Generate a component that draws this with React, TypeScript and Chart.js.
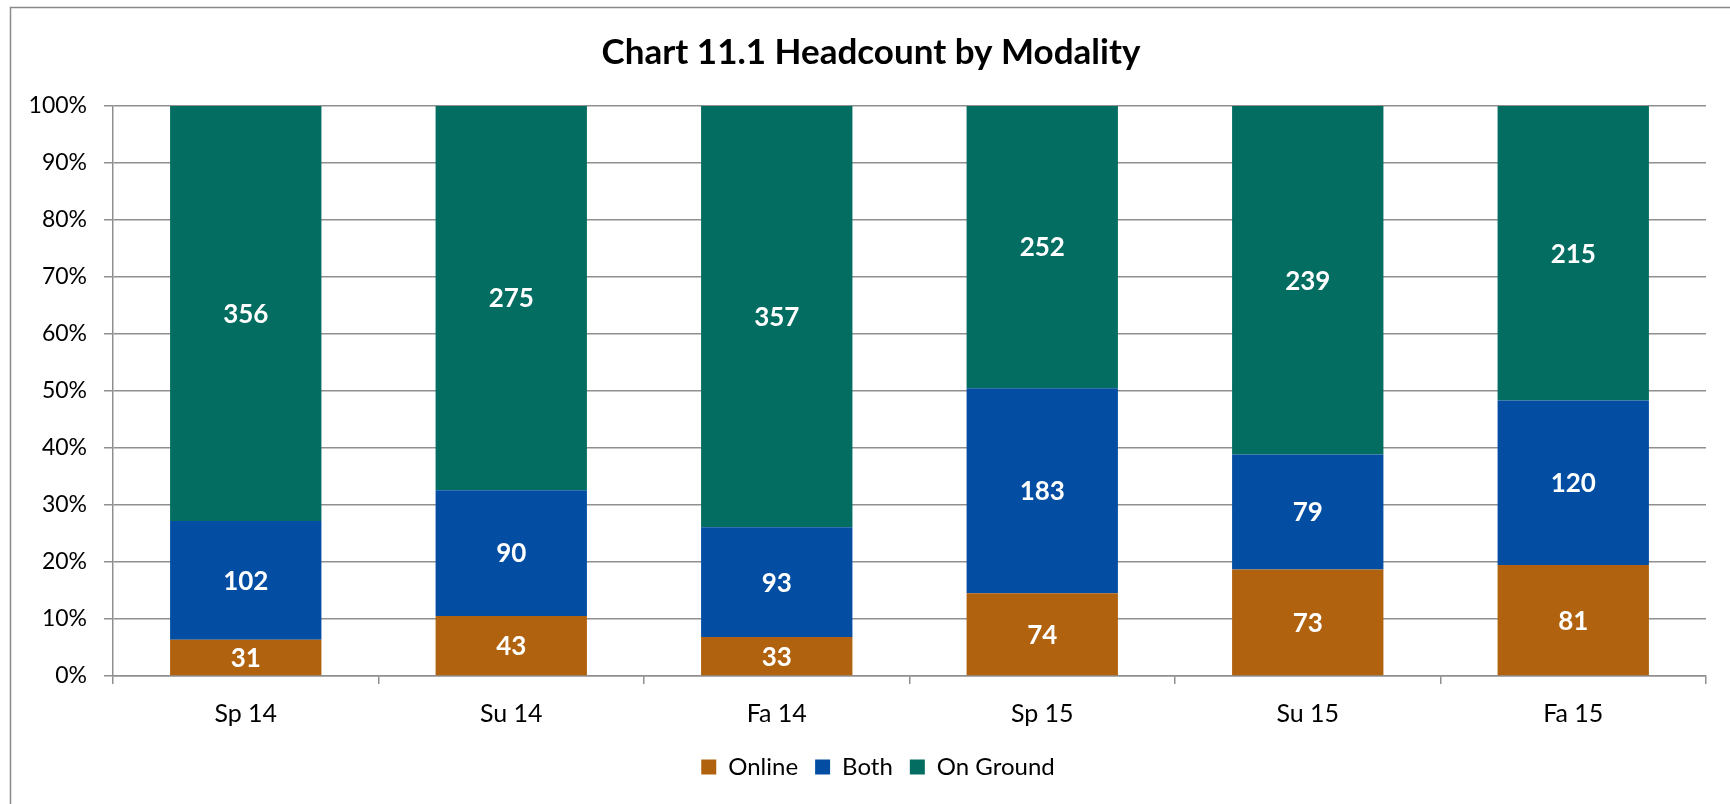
import React, { useEffect, useRef } from "react";
import { Chart, registerables } from "chart.js";

Chart.register(...registerables);

const categories = ["Sp 14", "Su 14", "Fa 14", "Sp 15", "Su 15", "Fa 15"];
const online = [31, 43, 33, 74, 73, 81];
const both = [102, 90, 93, 183, 79, 120];
const onGround = [356, 275, 357, 252, 239, 215];
const yTicks = [0, 10, 20, 30, 40, 50, 60, 70, 80, 90, 100];

const FONT = "Lato, 'Open Sans', sans-serif";

const totals = categories.map((_, i) => online[i] + both[i] + onGround[i]);
const pct = (arr: number[]) => arr.map((v, i) => (v / totals[i]) * 100);

const frameAndLabels = {
  id: "frameAndLabels",
  afterLayout(chart: any) {
    // the original chart frame is wider than the visible picture: centre title/legend on it
    const shiftBox = (box: any, dx: number) => {
      if (!box) return;
      box.left += dx;
      box.right += dx;
    };
    shiftBox(chart.titleBlock, 18);
    shiftBox(chart.legend, 25);
  },
  beforeDraw(chart: any) {
    const ctx = chart.ctx;
    ctx.save();
    ctx.fillStyle = "#ffffff";
    ctx.fillRect(0, 0, chart.width, chart.height);
    ctx.strokeStyle = "#8a8a8a";
    ctx.lineWidth = 1.5;
    ctx.strokeRect(10.5, 7.5, 2000, 2000);
    ctx.restore();
  },
  afterDatasetsDraw(chart: any) {
    const ctx = chart.ctx;
    ctx.save();
    ctx.fillStyle = "#ffffff";
    ctx.font = `bold 26px ${FONT}`;
    ctx.textAlign = "center";
    ctx.textBaseline = "middle";
    chart.data.datasets.forEach((ds: any, di: number) => {
      const meta = chart.getDatasetMeta(di);
      meta.data.forEach((bar: any, i: number) => {
        const y = (bar.y + bar.base) / 2;
        ctx.fillText(String(ds.counts[i]), bar.x, y + 1);
      });
    });
    ctx.restore();
  },
};

export default function App() {
  const ref = useRef<HTMLCanvasElement>(null);
  useEffect(() => {
    document.body.style.margin = "0";
    const chart = new Chart(ref.current!, {
      type: "bar",
      data: {
        labels: categories,
        datasets: [
          { label: "Online", data: pct(online), counts: online, backgroundColor: "#B1620F" } as any,
          { label: "Both", data: pct(both), counts: both, backgroundColor: "#034EA2" } as any,
          { label: "On Ground", data: pct(onGround), counts: onGround, backgroundColor: "#036D62" } as any,
        ],
      },
      options: {
        animation: false,
        responsive: false,
        maintainAspectRatio: false,
        layout: { padding: { left: 0, right: 24, top: 0, bottom: 15 } },
        datasets: { bar: { categoryPercentage: 1, barPercentage: 0.57 } },
        plugins: {
          title: {
            display: true,
            text: "Chart 11.1 Headcount by Modality",
            color: "#000",
            font: { family: FONT, size: 35, weight: "bold" },
            padding: { top: 32, bottom: 32 },
          },
          legend: {
            position: "bottom",
            labels: {
              color: "#000",
              font: { family: FONT, size: 24 },
              boxWidth: 15,
              boxHeight: 15,
              padding: 17,
            },
          },
          tooltip: { enabled: false },
        },
        scales: {
          x: {
            stacked: true,
            offset: true,
            grid: {
              offset: true,
              drawOnChartArea: false,
              drawTicks: true,
              tickLength: 8,
              color: "#8f8f8f",
              lineWidth: 1.5,
            },
            border: { color: "#8f8f8f", width: 1.5 },
            ticks: { color: "#000", font: { family: FONT, size: 25 }, padding: 15 },
            afterFit: (s: any) => {
              s.height = 62;
            },
          },
          y: {
            stacked: true,
            min: 0,
            max: 100,
            afterBuildTicks: (s: any) => {
              s.ticks = yTicks.map((v) => ({ value: v }));
            },
            grid: { color: "#8f8f8f", lineWidth: 1.5, tickLength: 9, drawTicks: true },
            border: { color: "#8f8f8f", width: 1.5 },
            ticks: {
              color: "#000",
              font: { family: FONT, size: 23 },
              padding: 17,
              callback: (v: any) => `${v}%`,
            },
            afterFit: (s: any) => {
              s.width = 113;
            },
          },
        },
      },
      plugins: [frameAndLabels],
    });
    return () => chart.destroy();
  }, []);
  return (
    <div style={{ position: "absolute", left: 0, top: 0, width: 1730, height: 804 }}>
      <canvas ref={ref} width={1730} height={804} style={{ width: 1730, height: 804 }} />
    </div>
  );
}
